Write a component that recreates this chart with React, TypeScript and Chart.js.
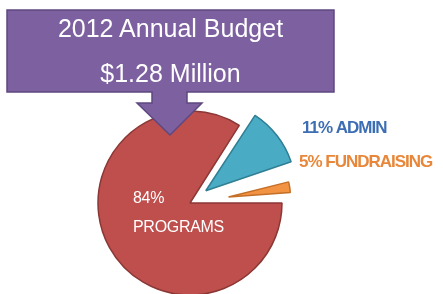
import React, { useEffect, useRef } from "react";
import { Chart, registerables } from "chart.js";

Chart.register(...registerables);

// ---- data ----
const categories = ["PROGRAMS", "ADMIN", "FUNDRAISING"];
const shares = [84, 11, 5];
const titleLines = ["2012 Annual Budget", "$1.28 Million"];

// ---- styles ----
const fillColors = ["#BE4F4C", "#4AABC5", "#F29343"];
const borderColors = ["#8A3735", "#2F7F94", "#C46F27"];
const labelColors = ["#FFFFFF", "#3D6EB4", "#E8873A"];
// Chart.js arc offset is applied at 1/4 of its value
const sliceOffsets = [0, 80, 156];
const sliceRadiusScale = [1, 0.9, 0.38];
const FONT = '"Liberation Sans", Arial, sans-serif';

const sliceRadiusPlugin = {
  id: "sliceRadius",
  afterDatasetsUpdate(chart: any) {
    const meta = chart.getDatasetMeta(0);
    meta.data.forEach((arc: any, i: number) => {
      arc.outerRadius = arc.outerRadius * (sliceRadiusScale[i] ?? 1);
    });
  },
};

const sliceLabelPlugin = {
  id: "sliceLabels",
  afterDatasetsDraw(chart: any) {
    const ctx = chart.ctx as CanvasRenderingContext2D;
    const meta = chart.getDatasetMeta(0);
    const c = meta.data[0];
    const cx = c.x;
    const cy = c.y;
    ctx.save();
    ctx.textAlign = "left";
    ctx.textBaseline = "alphabetic";
    // main slice label (inside)
    ctx.fillStyle = labelColors[0];
    ctx.font = `16px ${FONT}`;
    (ctx as any).letterSpacing = "-0.3px";
    ctx.fillText(`${shares[0]}%`, cx - 57, cy);
    ctx.fillText(categories[0], cx - 57, cy + 29);
    // outer labels
    ctx.font = `bold 17px ${FONT}`;
    (ctx as any).letterSpacing = "-1px";
    ctx.fillStyle = labelColors[1];
    ctx.fillText(`${shares[1]}% ${categories[1]}`, cx + 112, cy - 70);
    ctx.fillStyle = labelColors[2];
    ctx.fillText(`${shares[2]}% ${categories[2]}`, cx + 109, cy - 36);
    ctx.restore();
  },
};

export default function App() {
  const canvasRef = useRef<HTMLCanvasElement | null>(null);

  useEffect(() => {
    if (!canvasRef.current) return;
    const chart = new Chart(canvasRef.current, {
      type: "pie",
      data: {
        labels: categories,
        datasets: [
          {
            data: shares,
            backgroundColor: fillColors,
            borderColor: borderColors,
            borderWidth: 1.5,
            offset: sliceOffsets,
          },
        ],
      },
      options: {
        responsive: false,
        animation: false,
        devicePixelRatio: 1,
        events: [],
        rotation: 90,
        radius: 92,
        layout: { padding: { left: 0, right: 63, top: 112, bottom: 0 } },
        plugins: {
          legend: { display: false },
          tooltip: { enabled: false },
          title: { display: false },
        },
      } as any,
      plugins: [sliceRadiusPlugin, sliceLabelPlugin],
    });
    return () => chart.destroy();
  }, []);

  const textStyle: React.CSSProperties = {
    position: "absolute",
    left: 7,
    width: 327,
    textAlign: "center",
    color: "#FFFFFF",
    fontFamily: FONT,
    fontSize: 25,
    lineHeight: "25px",
    whiteSpace: "nowrap",
  };

  return (
    <div
      style={{
        position: "fixed",
        left: 0,
        top: 0,
        width: 443,
        height: 294,
        background: "#FFFFFF",
        overflow: "hidden",
      }}
    >
      <canvas ref={canvasRef} width={443} height={294} style={{ position: "absolute", left: 0, top: 0 }} />
      <svg width={443} height={294} style={{ position: "absolute", left: 0, top: 0 }}>
        <polygon
          points="7,10 334,10 334,92 187,92 187,103 202,103 170,135 137,103 152,103 152,92 7,92"
          fill="#7D60A0"
          stroke="#5E4880"
          strokeWidth={1.5}
          strokeLinejoin="miter"
        />
      </svg>
      <div style={{ ...textStyle, top: 16 }}>{titleLines[0]}</div>
      <div style={{ ...textStyle, top: 61 }}>{titleLines[1]}</div>
    </div>
  );
}
